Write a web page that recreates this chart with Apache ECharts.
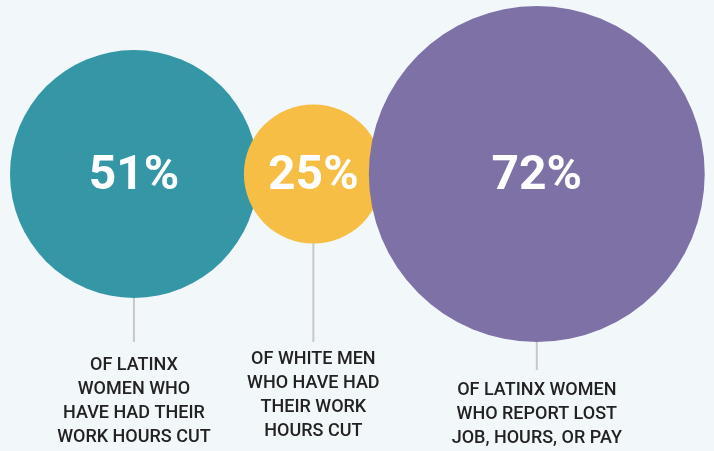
<!DOCTYPE html>
<html>
<head>
<meta charset="utf-8">
<style>
  html, body { margin: 0; padding: 0; background: #f2f7fa; }
  #chart { width: 714px; height: 451px; }
</style>
<script src="https://cdn.jsdelivr.net/npm/echarts@6/dist/echarts.min.js"></script>
</head>
<body>
<div id="chart"></div>
<script>
// Share of each group affected
const percentages = [51, 25, 72];
const descriptions = [
  'OF LATINX\nWOMEN WHO\nHAVE HAD THEIR\nWORK HOURS CUT',
  'OF WHITE MEN\nWHO HAVE HAD\nTHEIR WORK\nHOURS CUT',
  'OF LATINX WOMEN\nWHO REPORT LOST\nJOB, HOURS, OR PAY'
];
const colors = ['#3597a5', '#f6be45', '#7e71a6'];

// Layout (pixel space of the hidden axes)
const W = 714, H = 451;
const leftMargin = 10;
const centerY = 174;
const overlap = 14;
const connectorEnd = [342, 342, 370];
const captionMid = [365, 359, 390];

// Bubble diameter grows linearly with the percentage
const diameter = v => 34.2 + 4.19 * v;

// Place bubbles side by side, each slightly tucked into the previous one
const centersX = [];
percentages.forEach((v, i) => {
  const r = diameter(v) / 2;
  if (i === 0) centersX.push(leftMargin + r);
  else centersX.push(centersX[i - 1] + diameter(percentages[i - 1]) / 2 + r - overlap);
});

const bubbleData = percentages.map((v, i) => ({
  value: [centersX[i], centerY, v],
  itemStyle: { color: colors[i], opacity: 1 }
}));

const captionData = percentages.map((v, i) => [centersX[i], centerY, v, connectorEnd[i], captionMid[i], i]);

const chart = echarts.init(document.getElementById('chart'), null, { renderer: 'canvas' });
chart.setOption({
  backgroundColor: '#f2f7fa',
  animation: false,
  grid: { left: 0, right: 0, top: 0, bottom: 0 },
  xAxis: { type: 'value', min: 0, max: W, show: false },
  yAxis: { type: 'value', min: 0, max: H, inverse: true, show: false },
  series: [
    {
      type: 'custom',
      z: 1,
      data: captionData,
      renderItem: (params, api) => {
        const cx = api.value(0);
        const v = api.value(2);
        const top = api.coord([cx, centerY])[1] + diameter(v) / 2;
        const end = api.coord([cx, api.value(3)])[1];
        const mid = api.coord([cx, api.value(4)])[1];
        const x = api.coord([cx, centerY])[0];
        const idx = api.value(5);
        return {
          type: 'group',
          children: [
            {
              type: 'line',
              shape: { x1: x, y1: top - 2, x2: x, y2: end },
              style: { stroke: '#c6c8cc', lineWidth: 2 }
            },
            {
              type: 'text',
              style: {
                text: descriptions[idx],
                x: x,
                y: mid - 12,
                align: 'center',
                verticalAlign: 'top',
                fontFamily: 'Roboto',
                fontWeight: 500,
                fontSize: 18,
                lineHeight: 24,
                fill: '#222222'
              }
            }
          ]
        };
      }
    },
    {
      type: 'scatter',
      z: 2,
      data: bubbleData,
      symbol: 'circle',
      symbolSize: val => diameter(val[2]),
      itemStyle: { opacity: 1 },
      label: {
        show: true,
        position: 'inside',
        offset: [0, 3],
        formatter: p => p.value[2] + '%',
        color: '#ffffff',
        fontFamily: 'Roboto',
        fontWeight: 'bold',
        fontSize: 48
      },
      emphasis: { disabled: true }
    }
  ]
});
</script>
</body>
</html>
